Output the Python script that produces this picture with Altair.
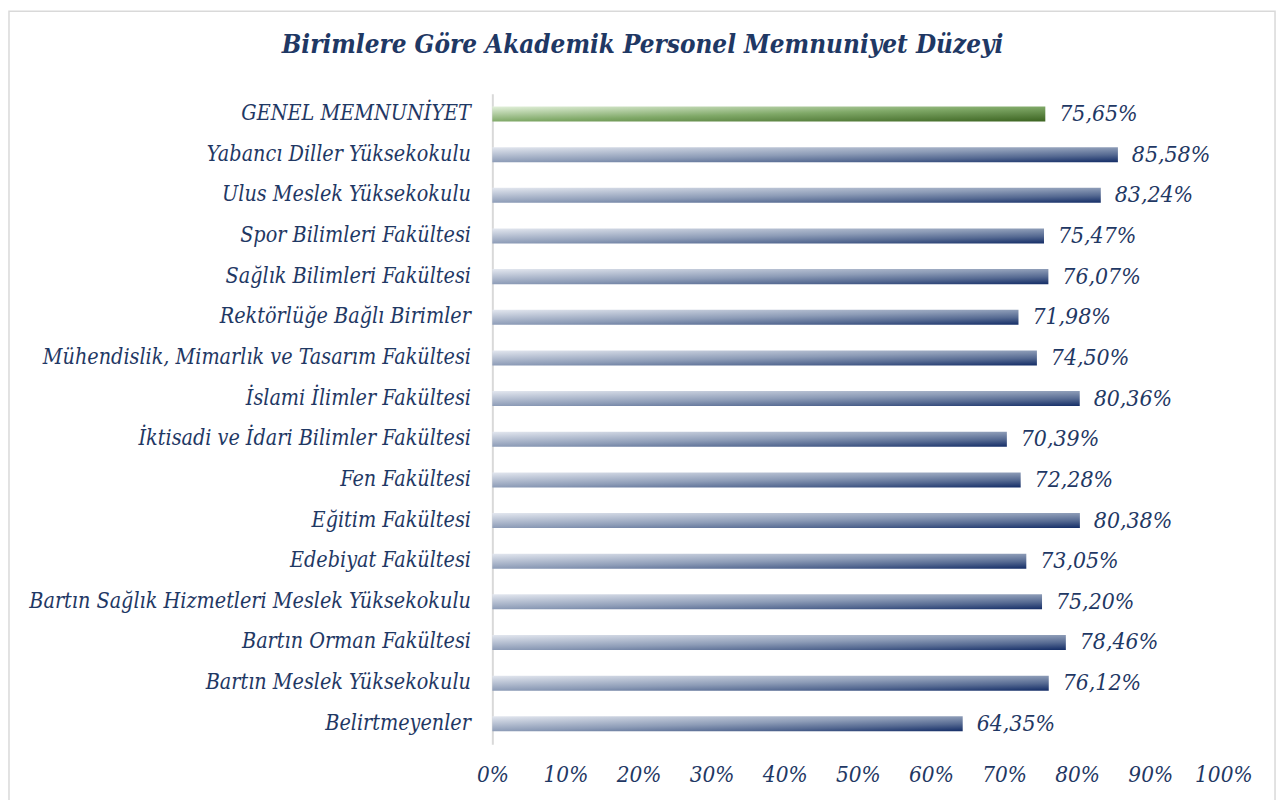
import altair as alt
import pandas as pd

title_text = "Birimlere Göre Akademik Personel Memnuniyet Düzeyi"
units = [
    "GENEL MEMNUNİYET",
    "Yabancı Diller Yüksekokulu",
    "Ulus Meslek Yüksekokulu",
    "Spor Bilimleri Fakültesi",
    "Sağlık Bilimleri Fakültesi",
    "Rektörlüğe Bağlı Birimler",
    "Mühendislik, Mimarlık ve Tasarım Fakültesi",
    "İslami İlimler Fakültesi",
    "İktisadi ve İdari Bilimler Fakültesi",
    "Fen Fakültesi",
    "Eğitim Fakültesi",
    "Edebiyat Fakültesi",
    "Bartın Sağlık Hizmetleri Meslek Yüksekokulu",
    "Bartın Orman Fakültesi",
    "Bartın Meslek Yüksekokulu",
    "Belirtmeyenler",
]
values = [75.65, 85.58, 83.24, 75.47, 76.07, 71.98, 74.50, 80.36,
          70.39, 72.28, 80.38, 73.05, 75.20, 78.46, 76.12, 64.35]
overall_unit = "GENEL MEMNUNİYET"
x_ticks = [0, 10, 20, 30, 40, 50, 60, 70, 80, 90, 100]

df = pd.DataFrame({"unit": units, "value": values})
df["label"] = [f"{v:.2f}".replace(".", ",") + "%" for v in values]
df["overall"] = df["unit"] == overall_unit

NAVY = "#1F3864"
FONT = "DejaVu Serif Condensed"

blue_grad = alt.LinearGradient(
    gradient="linear", x1=0, y1=0, x2=1, y2=1,
    stops=[
        alt.GradientStop(offset=0, color="#e3e7ef"),
        alt.GradientStop(offset=0.5, color="#8d9cb7"),
        alt.GradientStop(offset=0.75, color="#566a92"),
        alt.GradientStop(offset=1, color="#132c66"),
    ],
)
green_grad = alt.LinearGradient(
    gradient="linear", x1=0, y1=0, x2=1, y2=1,
    stops=[
        alt.GradientStop(offset=0, color="#e2f0da"),
        alt.GradientStop(offset=0.5, color="#80a968"),
        alt.GradientStop(offset=1, color="#3b6320"),
    ],
)

y_enc = alt.Y(
    "unit:N", sort=units, title=None,
    scale=alt.Scale(paddingInner=0.63, paddingOuter=0.315),
    axis=alt.Axis(
        labelFont=FONT, labelFontStyle="italic", labelFontSize=21.5,
        labelColor=NAVY, labelPadding=22, labelLimit=0, ticks=False,
        domainColor="#d9d9d9", domainWidth=2,
    ),
)
x_enc = alt.X(
    "value:Q", title=None,
    scale=alt.Scale(domain=[0, 100], nice=False),
    axis=alt.Axis(
        values=x_ticks, labelExpr="datum.value + '%'", grid=False,
        domain=False, ticks=False, labelFont=FONT, labelFontStyle="italic",
        labelFontSize=22.5, labelColor=NAVY, labelPadding=20, labelFlush=False,
        labelOverlap=False,
    ),
)

base = alt.Chart(df)

border = alt.Chart(alt.Data(values=[{"a": 1}])).mark_rect(
    filled=False, stroke="#d9d9d9", strokeWidth=1.5
).encode(
    x=alt.value(-486), x2=alt.value(787), y=alt.value(-83), y2=alt.value(720)
)

title = alt.Chart(alt.Data(values=[{"t": title_text}])).mark_text(
    font=FONT, fontSize=26, fontStyle="italic", fontWeight="bold",
    color=NAVY, align="center", baseline="alphabetic"
).encode(text="t:N", x=alt.value(151), y=alt.value(-41))

bars_blue = base.transform_filter("!datum.overall").mark_bar(
    color=blue_grad
).encode(x=x_enc, y=y_enc)

bars_green = base.transform_filter("datum.overall").mark_bar(
    color=green_grad
).encode(x=x_enc, y=y_enc)

labels = base.mark_text(
    align="left", baseline="middle", dx=14, font=FONT, fontStyle="italic",
    fontSize=23, color=NAVY
).encode(x=x_enc, y=y_enc, text="label:N")

chart = alt.layer(border, title, bars_blue, bars_green, labels).properties(
    width=735, height=654,
    autosize=alt.AutoSizeParams(type="none"),
    padding={"left": 487, "top": 84, "right": 56, "bottom": 55},
).configure(background="white").configure_view(strokeWidth=0, stroke=None)

chart.save("out.html", embed_options={"renderer": "svg", "actions": False})
